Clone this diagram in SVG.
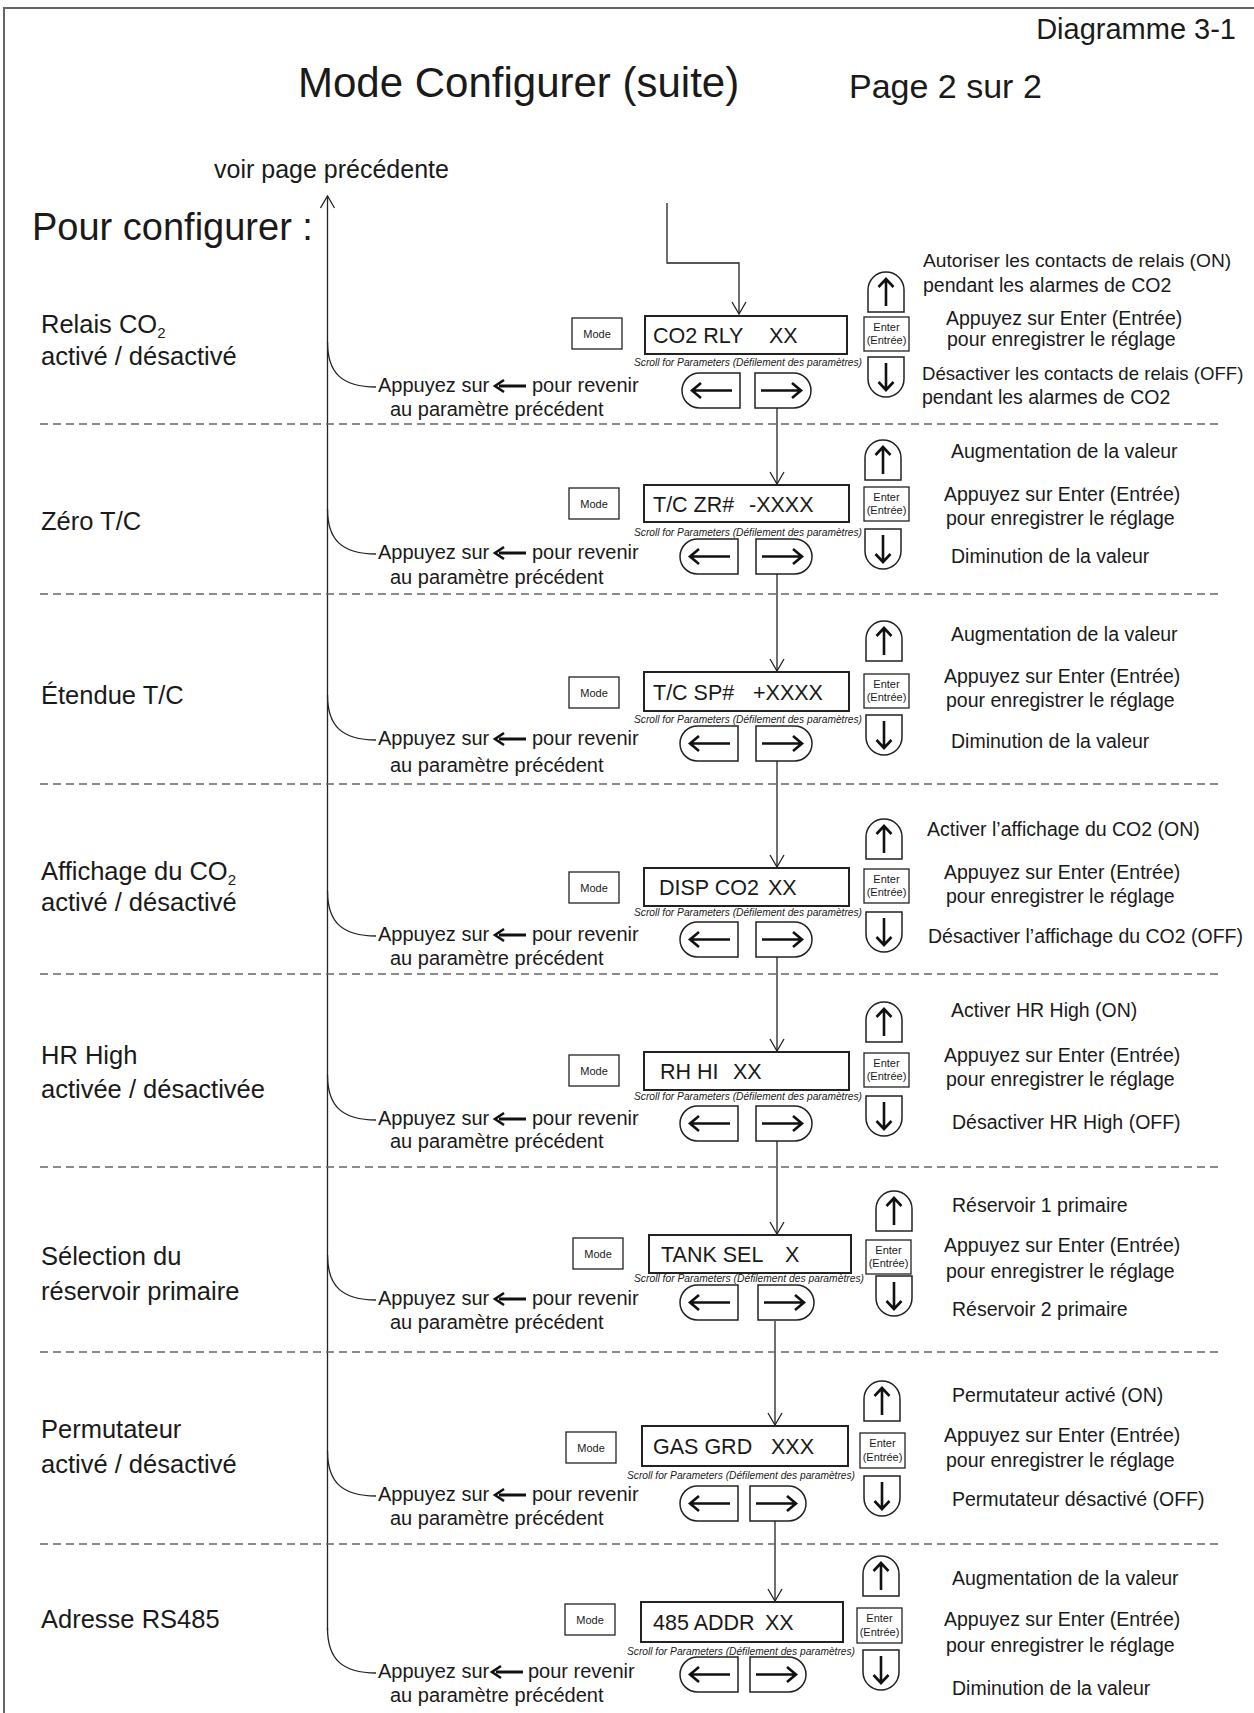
<svg xmlns="http://www.w3.org/2000/svg" xmlns:xlink="http://www.w3.org/1999/xlink" width="1254" height="1713" viewBox="0 0 1254 1713">
<style>
text{font-family:"Liberation Sans",Arial,Helvetica,sans-serif;fill:#1a1a1a}
.lbl{font-size:25.5px}
.rt{font-size:19.5px}
.bk{font-size:20px}
.disp{font-size:21.5px}
.sm{font-size:11px}
.sc{font-size:10px;font-style:italic}
.box{fill:#fff;stroke:#222;stroke-width:1.3}
.dbox{fill:#fff;stroke:#222;stroke-width:2}
.btn{fill:#fff;stroke:#222;stroke-width:1.5}
.ar{fill:none;stroke:#111;stroke-width:2.6;stroke-linecap:butt}
.ln{fill:none;stroke:#222;stroke-width:1.3}
.dash{fill:none;stroke:#666;stroke-width:1.4;stroke-dasharray:8 5}
</style>
<defs>
<marker id="ah" markerUnits="userSpaceOnUse" viewBox="0 0 14 16" refX="13" refY="8" markerWidth="14" markerHeight="16" orient="auto">
<path d="M1,1 L13,8 L1,15" fill="none" stroke="#222" stroke-width="1.3"/>
</marker>
<g id="upB"><path class="btn" d="M0,40 V18 A18,18 0 0 1 36,18 V40 Z"/><path class="ar" d="M18,34 V7 M10.5,15 L18,7 L25.5,15"/></g>
<g id="dnB"><path class="btn" d="M0,0 H36 V22 A18,18 0 0 1 0,22 Z"/><path class="ar" d="M18,6 V33 M10.5,25 L18,33 L25.5,25"/></g>
<g id="lB"><path class="btn" d="M58,0 H17.5 A17.5,17.5 0 0 0 17.5,35 H58 Z"/><path class="ar" d="M50,17.5 H10 M19,10 L10,17.5 L19,25" stroke-width="3"/></g>
<g id="rB"><path class="btn" d="M0,0 H38.5 A17.5,17.5 0 0 1 38.5,35 H0 Z"/><path class="ar" d="M6,17.5 H46 M37,10 L46,17.5 L37,25" stroke-width="2.6"/></g>
<g id="bkA"><path d="M5,0 H32" stroke="#111" stroke-width="3" fill="none"/><path d="M10,-6 L1,0 L10,6" stroke="#111" stroke-width="2.6" fill="none"/></g>
</defs>

<rect x="4" y="8" width="1270" height="1730" fill="none" stroke="#666" stroke-width="2"/>

<g id="header">
<text x="1236" y="39" font-size="29" text-anchor="end">Diagramme 3-1</text>
<text x="298" y="97" font-size="42">Mode Configurer (suite)</text>
<text x="849" y="98" font-size="34">Page 2 sur 2</text>
<text x="214" y="178" font-size="25">voir page précédente</text>
<text x="32" y="240" font-size="38">Pour configurer :</text>
</g>

<g id="connectors">
<path class="ln" d="M327.5,1630 V196" marker-end="url(#ah)"/>
<path class="ln" d="M667,203 V263 H739 V314" marker-end="url(#ah)"/>
<path class="ln" d="M777,408 V484" marker-end="url(#ah)"/>
<path class="ln" d="M777,574 V671" marker-end="url(#ah)"/>
<path class="ln" d="M777,761 V867" marker-end="url(#ah)"/>
<path class="ln" d="M777,957 V1051" marker-end="url(#ah)"/>
<path class="ln" d="M777,1141 V1234" marker-end="url(#ah)"/>
<path class="ln" d="M775,1321 V1425" marker-end="url(#ah)"/>
<path class="ln" d="M775,1521 V1601" marker-end="url(#ah)"/>
<path class="ln" d="M327.5,342 C327.5,373 342,387 376,387"/>
<path class="ln" d="M327.5,509 C327.5,540 342,554 376,554"/>
<path class="ln" d="M327.5,695 C327.5,726 342,740 376,740"/>
<path class="ln" d="M327.5,891 C327.5,922 342,936 376,936"/>
<path class="ln" d="M327.5,1075 C327.5,1106 342,1120 376,1120"/>
<path class="ln" d="M327.5,1255 C327.5,1286 342,1300 376,1300"/>
<path class="ln" d="M327.5,1451 C327.5,1482 342,1496 376,1496"/>
<path class="ln" d="M327.5,1628 C327.5,1659 342,1673 376,1673"/>
</g>

<g id="separators">
<path class="dash" d="M40,424 H1218"/>
<path class="dash" d="M40,594 H1218"/>
<path class="dash" d="M40,784 H1218"/>
<path class="dash" d="M40,974 H1218"/>
<path class="dash" d="M40,1167 H1218"/>
<path class="dash" d="M40,1352 H1218"/>
<path class="dash" d="M40,1544 H1218"/>
</g>

<!-- Section 1 -->
<g id="s1">
<text class="lbl" x="41" y="333">Relais CO<tspan font-size="15" dy="5">2</tspan></text>
<text class="lbl" x="41" y="365">activé / désactivé</text>
<rect class="box" x="572" y="318" width="50" height="31"/><text class="sm" x="597" y="338" text-anchor="middle">Mode</text>
<rect class="dbox" x="645" y="316" width="202" height="38"/><text class="disp" x="653" y="343">CO2 RLY<tspan x="769">XX</tspan></text>
<rect class="box" x="864" y="317" width="45" height="34"/><text class="sm" x="886.5" y="331" text-anchor="middle">Enter</text><text class="sm" x="886.5" y="344" text-anchor="middle">(Entrée)</text>
<use xlink:href="#upB" x="868" y="272"/><use xlink:href="#dnB" x="868" y="357"/>
<text class="sc" x="634" y="366" textLength="228" lengthAdjust="spacingAndGlyphs">Scroll for Parameters (Défilement des paramètres)</text>
<use xlink:href="#lB" x="682" y="373"/><use xlink:href="#rB" x="755" y="373"/>
<text class="rt" x="923" y="267" style="font-size:19.2px">Autoriser les contacts de relais (ON)</text>
<text class="rt" x="923" y="292">pendant les alarmes de CO2</text>
<text class="rt" x="946" y="325">Appuyez sur Enter (Entrée)</text>
<text class="rt" x="947" y="346">pour enregistrer le réglage</text>
<text class="rt" x="922" y="380" style="font-size:18.6px">Désactiver les contacts de relais (OFF)</text>
<text class="rt" x="922" y="404">pendant les alarmes de CO2</text>
<text class="bk" x="378" y="392">Appuyez sur</text><use xlink:href="#bkA" x="494" y="386"/><text class="bk" x="532" y="392">pour revenir</text>
<text class="bk" x="390" y="416">au paramètre précédent</text>
</g>

<!-- Section 2 -->
<g id="s2">
<text class="lbl" x="41" y="530">Zéro T/C</text>
<rect class="box" x="569" y="488" width="50" height="31"/><text class="sm" x="594" y="508" text-anchor="middle">Mode</text>
<rect class="dbox" x="644" y="485" width="205" height="37"/><text class="disp" x="653" y="512">T/C ZR#<tspan x="749">-XXXX</tspan></text>
<rect class="box" x="864" y="487" width="45" height="34"/><text class="sm" x="886.5" y="501" text-anchor="middle">Enter</text><text class="sm" x="886.5" y="514" text-anchor="middle">(Entrée)</text>
<use xlink:href="#upB" x="865" y="440"/><use xlink:href="#dnB" x="865" y="529"/>
<text class="sc" x="634" y="536" textLength="228" lengthAdjust="spacingAndGlyphs">Scroll for Parameters (Défilement des paramètres)</text>
<use xlink:href="#lB" x="680" y="539"/><use xlink:href="#rB" x="756" y="539"/>
<text class="rt" x="951" y="458">Augmentation de la valeur</text>
<text class="rt" x="944" y="501">Appuyez sur Enter (Entrée)</text>
<text class="rt" x="946" y="525">pour enregistrer le réglage</text>
<text class="rt" x="951" y="563">Diminution de la valeur</text>
<text class="bk" x="378" y="559">Appuyez sur</text><use xlink:href="#bkA" x="494" y="553"/><text class="bk" x="532" y="559">pour revenir</text>
<text class="bk" x="390" y="584">au paramètre précédent</text>
</g>

<!-- Section 3 -->
<g id="s3">
<text class="lbl" x="41" y="704">Étendue T/C</text>
<rect class="box" x="569" y="677" width="50" height="31"/><text class="sm" x="594" y="697" text-anchor="middle">Mode</text>
<rect class="dbox" x="644" y="672" width="205" height="39"/><text class="disp" x="653" y="700">T/C SP#<tspan x="753">+XXXX</tspan></text>
<rect class="box" x="864" y="674" width="45" height="34"/><text class="sm" x="886.5" y="688" text-anchor="middle">Enter</text><text class="sm" x="886.5" y="701" text-anchor="middle">(Entrée)</text>
<use xlink:href="#upB" x="866" y="621"/><use xlink:href="#dnB" x="866" y="715"/>
<text class="sc" x="634" y="723" textLength="228" lengthAdjust="spacingAndGlyphs">Scroll for Parameters (Défilement des paramètres)</text>
<use xlink:href="#lB" x="680" y="726"/><use xlink:href="#rB" x="756" y="726"/>
<text class="rt" x="951" y="641">Augmentation de la valeur</text>
<text class="rt" x="944" y="683">Appuyez sur Enter (Entrée)</text>
<text class="rt" x="946" y="707">pour enregistrer le réglage</text>
<text class="rt" x="951" y="748">Diminution de la valeur</text>
<text class="bk" x="378" y="745">Appuyez sur</text><use xlink:href="#bkA" x="494" y="739"/><text class="bk" x="532" y="745">pour revenir</text>
<text class="bk" x="390" y="772">au paramètre précédent</text>
</g>

<!-- Section 4 -->
<g id="s4">
<text class="lbl" x="41" y="880">Affichage du CO<tspan font-size="15" dy="5">2</tspan></text>
<text class="lbl" x="41" y="911">activé / désactivé</text>
<rect class="box" x="569" y="872" width="50" height="31"/><text class="sm" x="594" y="892" text-anchor="middle">Mode</text>
<rect class="dbox" x="644" y="868" width="205" height="38"/><text class="disp" x="659" y="895">DISP CO2<tspan x="768">XX</tspan></text>
<rect class="box" x="864" y="869" width="45" height="34"/><text class="sm" x="886.5" y="883" text-anchor="middle">Enter</text><text class="sm" x="886.5" y="896" text-anchor="middle">(Entrée)</text>
<use xlink:href="#upB" x="866" y="819"/><use xlink:href="#dnB" x="866" y="912"/>
<text class="sc" x="634" y="916" textLength="228" lengthAdjust="spacingAndGlyphs">Scroll for Parameters (Défilement des paramètres)</text>
<use xlink:href="#lB" x="680" y="922"/><use xlink:href="#rB" x="756" y="922"/>
<text class="rt" x="927" y="836">Activer l’affichage du CO2 (ON)</text>
<text class="rt" x="944" y="879">Appuyez sur Enter (Entrée)</text>
<text class="rt" x="946" y="903">pour enregistrer le réglage</text>
<text class="rt" x="928" y="943">Désactiver l’affichage du CO2 (OFF)</text>
<text class="bk" x="378" y="941">Appuyez sur</text><use xlink:href="#bkA" x="494" y="935"/><text class="bk" x="532" y="941">pour revenir</text>
<text class="bk" x="390" y="965">au paramètre précédent</text>
</g>

<!-- Section 5 -->
<g id="s5">
<text class="lbl" x="41" y="1064">HR High</text>
<text class="lbl" x="41" y="1098">activée / désactivée</text>
<rect class="box" x="569" y="1055" width="50" height="31"/><text class="sm" x="594" y="1075" text-anchor="middle">Mode</text>
<rect class="dbox" x="644" y="1052" width="205" height="38"/><text class="disp" x="660" y="1079">RH HI<tspan x="733">XX</tspan></text>
<rect class="box" x="864" y="1053" width="45" height="34"/><text class="sm" x="886.5" y="1067" text-anchor="middle">Enter</text><text class="sm" x="886.5" y="1080" text-anchor="middle">(Entrée)</text>
<use xlink:href="#upB" x="866" y="1002"/><use xlink:href="#dnB" x="866" y="1096"/>
<text class="sc" x="634" y="1100" textLength="228" lengthAdjust="spacingAndGlyphs">Scroll for Parameters (Défilement des paramètres)</text>
<use xlink:href="#lB" x="680" y="1106"/><use xlink:href="#rB" x="756" y="1106"/>
<text class="rt" x="951" y="1017">Activer HR High (ON)</text>
<text class="rt" x="944" y="1062">Appuyez sur Enter (Entrée)</text>
<text class="rt" x="946" y="1086">pour enregistrer le réglage</text>
<text class="rt" x="952" y="1129">Désactiver HR High (OFF)</text>
<text class="bk" x="378" y="1125">Appuyez sur</text><use xlink:href="#bkA" x="494" y="1119"/><text class="bk" x="532" y="1125">pour revenir</text>
<text class="bk" x="390" y="1148">au paramètre précédent</text>
</g>

<!-- Section 6 -->
<g id="s6">
<text class="lbl" x="41" y="1265">Sélection du</text>
<text class="lbl" x="41" y="1300">réservoir primaire</text>
<rect class="box" x="573" y="1238" width="50" height="31"/><text class="sm" x="598" y="1258" text-anchor="middle">Mode</text>
<rect class="dbox" x="649" y="1235" width="202" height="38"/><text class="disp" x="661" y="1262">TANK SEL<tspan x="785">X</tspan></text>
<rect class="box" x="866" y="1240" width="45" height="34"/><text class="sm" x="888.5" y="1254" text-anchor="middle">Enter</text><text class="sm" x="888.5" y="1267" text-anchor="middle">(Entrée)</text>
<use xlink:href="#upB" x="876" y="1191"/><use xlink:href="#dnB" x="876" y="1276"/>
<text class="sc" x="634" y="1282" textLength="230" lengthAdjust="spacingAndGlyphs">Scroll for Parameters (Défilement des paramètres)</text>
<use xlink:href="#lB" x="680" y="1285"/><use xlink:href="#rB" x="758" y="1285"/>
<text class="rt" x="952" y="1212">Réservoir 1 primaire</text>
<text class="rt" x="944" y="1252">Appuyez sur Enter (Entrée)</text>
<text class="rt" x="946" y="1278">pour enregistrer le réglage</text>
<text class="rt" x="952" y="1316">Réservoir 2 primaire</text>
<text class="bk" x="378" y="1305">Appuyez sur</text><use xlink:href="#bkA" x="494" y="1299"/><text class="bk" x="532" y="1305">pour revenir</text>
<text class="bk" x="390" y="1329">au paramètre précédent</text>
</g>

<!-- Section 7 -->
<g id="s7">
<text class="lbl" x="41" y="1438">Permutateur</text>
<text class="lbl" x="41" y="1473">activé / désactivé</text>
<rect class="box" x="566" y="1432" width="50" height="31"/><text class="sm" x="591" y="1452" text-anchor="middle">Mode</text>
<rect class="dbox" x="642" y="1426" width="206" height="40"/><text class="disp" x="653" y="1454">GAS GRD<tspan x="771">XXX</tspan></text>
<rect class="box" x="860" y="1433" width="45" height="35"/><text class="sm" x="882.5" y="1447" text-anchor="middle">Enter</text><text class="sm" x="882.5" y="1461" text-anchor="middle">(Entrée)</text>
<use xlink:href="#upB" x="864" y="1381"/><use xlink:href="#dnB" x="864" y="1476"/>
<text class="sc" x="627" y="1479" textLength="228" lengthAdjust="spacingAndGlyphs">Scroll for Parameters (Défilement des paramètres)</text>
<use xlink:href="#lB" x="680" y="1486"/><use xlink:href="#rB" x="750" y="1486"/>
<text class="rt" x="952" y="1402">Permutateur activé (ON)</text>
<text class="rt" x="944" y="1442">Appuyez sur Enter (Entrée)</text>
<text class="rt" x="946" y="1467">pour enregistrer le réglage</text>
<text class="rt" x="952" y="1506">Permutateur désactivé (OFF)</text>
<text class="bk" x="378" y="1501">Appuyez sur</text><use xlink:href="#bkA" x="494" y="1495"/><text class="bk" x="532" y="1501">pour revenir</text>
<text class="bk" x="390" y="1525">au paramètre précédent</text>
</g>

<!-- Section 8 -->
<g id="s8">
<text class="lbl" x="41" y="1628">Adresse RS485</text>
<rect class="box" x="565" y="1604" width="50" height="31"/><text class="sm" x="590" y="1624" text-anchor="middle">Mode</text>
<rect class="dbox" x="641" y="1602" width="202" height="40"/><text class="disp" x="653" y="1630">485 ADDR<tspan x="765">XX</tspan></text>
<rect class="box" x="857" y="1608" width="45" height="35"/><text class="sm" x="879.5" y="1622" text-anchor="middle">Enter</text><text class="sm" x="879.5" y="1636" text-anchor="middle">(Entrée)</text>
<use xlink:href="#upB" x="863" y="1556"/><use xlink:href="#dnB" x="863" y="1650"/>
<text class="sc" x="627" y="1655" textLength="228" lengthAdjust="spacingAndGlyphs">Scroll for Parameters (Défilement des paramètres)</text>
<use xlink:href="#lB" x="680" y="1657"/><use xlink:href="#rB" x="750" y="1657"/>
<text class="rt" x="952" y="1585">Augmentation de la valeur</text>
<text class="rt" x="944" y="1626">Appuyez sur Enter (Entrée)</text>
<text class="rt" x="946" y="1652">pour enregistrer le réglage</text>
<text class="rt" x="952" y="1695">Diminution de la valeur</text>
<text class="bk" x="378" y="1678">Appuyez sur</text><use xlink:href="#bkA" x="491" y="1672"/><text class="bk" x="528" y="1678">pour revenir</text>
<text class="bk" x="390" y="1702">au paramètre précédent</text>
</g>
</svg>
